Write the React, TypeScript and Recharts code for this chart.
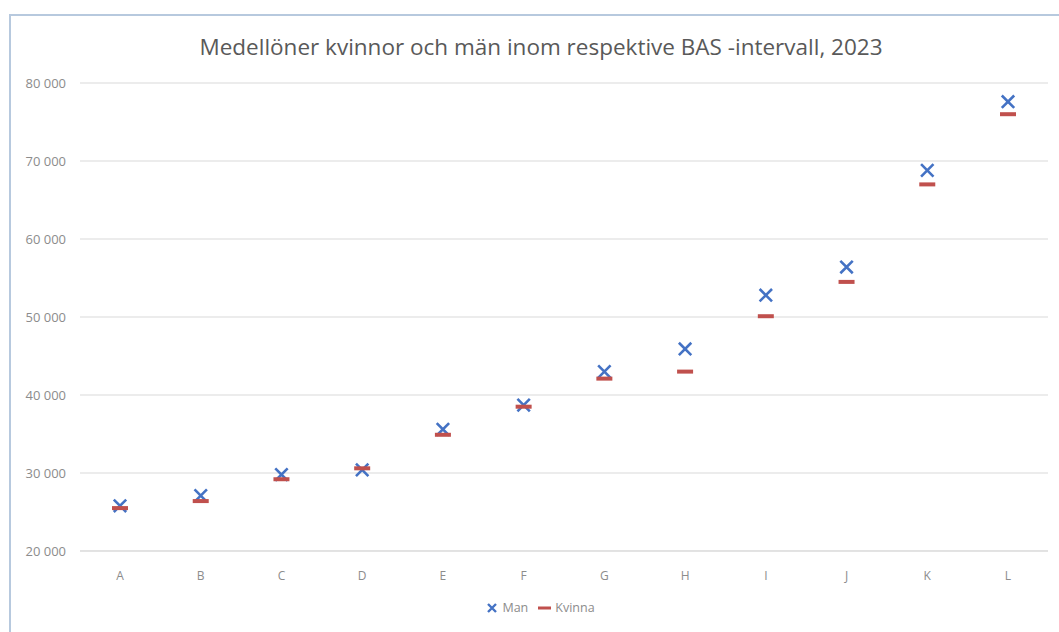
import { ComposedChart, Line, XAxis, YAxis, CartesianGrid, Legend } from "recharts";

const categories = ["A", "B", "C", "D", "E", "F", "G", "H", "I", "J", "K", "L"];
const man = [25800, 27100, 29800, 30400, 35600, 38700, 43000, 45900, 52800, 56400, 68800, 77600];
const kvinna = [25500, 26400, 29200, 30600, 34900, 38500, 42100, 43000, 50100, 54500, 67000, 76000];
const yTicks = [20000, 30000, 40000, 50000, 60000, 70000, 80000];

const data = categories.map((name, i) => ({ name, Man: man[i], Kvinna: kvinna[i] }));

const BLUE = "#4472C4";
const RED = "#C0504D";
const FONT = "'Open Sans', 'Noto Sans', sans-serif";
const AXIS_GREY = "#8c8c8c";

const fmt = (v: number) => `${v / 1000} 000`;

const CrossDot = (props: any) => {
  const { cx, cy, index } = props;
  if (cx == null || cy == null) return <g key={index} />;
  const s = 6.2;
  return (
    <path
      key={index}
      d={`M${cx - s},${cy - s}L${cx + s},${cy + s}M${cx - s},${cy + s}L${cx + s},${cy - s}`}
      stroke={BLUE}
      strokeWidth={2.6}
      fill="none"
    />
  );
};

const DashDot = (props: any) => {
  const { cx, cy, index } = props;
  if (cx == null || cy == null) return <g key={index} />;
  return <rect key={index} x={cx - 8} y={cy - 2} width={16} height={4} fill={RED} />;
};

const renderLegend = () => (
  <div
    style={{
      display: "flex",
      justifyContent: "center",
      alignItems: "center",
      gap: 10,
      fontFamily: FONT,
      fontSize: 12.5,
      color: AXIS_GREY,
    }}
  >
    <span style={{ display: "flex", alignItems: "center", gap: 5 }}>
      <svg width={10} height={10}>
        <path d="M1,1L9,9M1,9L9,1" stroke={BLUE} strokeWidth={2.4} />
      </svg>
      Man
    </span>
    <span style={{ display: "flex", alignItems: "center", gap: 4 }}>
      <svg width={13} height={10}>
        <rect x={0} y={3.5} width={13} height={3} fill={RED} />
      </svg>
      Kvinna
    </span>
  </div>
);

export default function App() {
  return (
    <div
      style={{
        position: "absolute",
        left: 0,
        top: 0,
        width: 1059,
        height: 632,
        background: "#fff",
        overflow: "hidden",
      }}
    >
      <div
        style={{
          position: "absolute",
          left: 9,
          top: 14,
          width: 1200,
          height: 800,
          border: "2px solid #b7c9de",
        }}
      />
      <div
        style={{
          position: "absolute",
          left: 0,
          top: 32,
          width: 1082,
          textAlign: "center",
          fontFamily: FONT,
          fontSize: 22.5,
          lineHeight: "30px",
          color: "#595959",
        }}
      >
        Medellöner kvinnor och män inom respektive BAS -intervall, 2023
      </div>
      <div style={{ position: "absolute", left: 0, top: 0 }}>
        <ComposedChart
          width={1059}
          height={632}
          data={data}
          margin={{ top: 83, right: 11, bottom: 27, left: 0 }}
        >
          <CartesianGrid vertical={false} stroke="#d9d9d9" />
          <XAxis
            dataKey="name"
            height={30}
            padding={{ left: 40, right: 40 }}
            axisLine={{ stroke: "#d9d9d9" }}
            tickLine={false}
            tickMargin={14}
            tick={{ fill: AXIS_GREY, fontSize: 12, fontFamily: FONT }}
          />
          <YAxis
            width={80}
            domain={[20000, 80000]}
            ticks={yTicks}
            tickFormatter={fmt}
            axisLine={false}
            tickLine={false}
            tickMargin={8}
            tick={{ fill: AXIS_GREY, fontSize: 13, fontFamily: FONT }}
          />
          <Legend
            verticalAlign="bottom"
            height={24}
            content={renderLegend}
            wrapperStyle={{ top: 599, left: 0, width: 1082 }}
          />
          <Line
            dataKey="Man"
            stroke="none"
            dot={CrossDot}
            activeDot={false}
            isAnimationActive={false}
          />
          <Line
            dataKey="Kvinna"
            stroke="none"
            dot={DashDot}
            activeDot={false}
            isAnimationActive={false}
          />
        </ComposedChart>
      </div>
    </div>
  );
}
